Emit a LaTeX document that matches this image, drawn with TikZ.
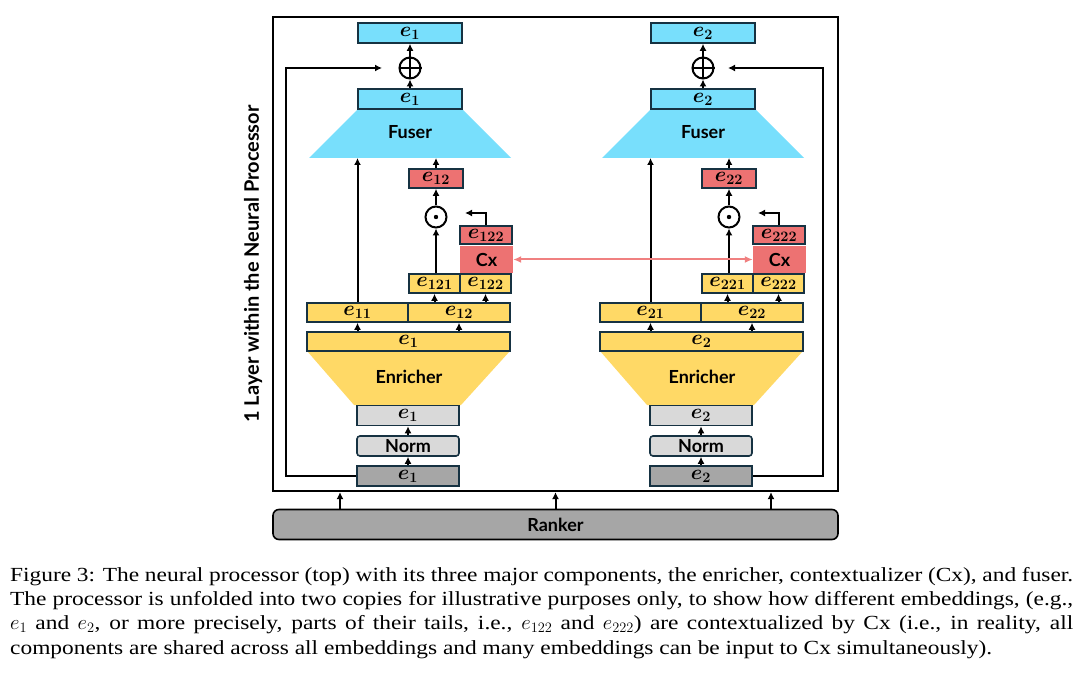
\documentclass[tikz,border=0pt]{standalone}
\usepackage{bm}
\usepackage{fontspec}
\setmainfont{Liberation Serif}
\newfontfamily\lato{Lato}
\newfontfamily\capfont[FakeStretch=1.17]{Liberation Serif}
\usetikzlibrary{arrows.meta}
\definecolor{fuser}{RGB}{120,223,252}
\definecolor{enricher}{RGB}{255,217,102}
\definecolor{contextual}{RGB}{237,114,114}
\definecolor{normgray}{RGB}{217,217,217}
\definecolor{inputgray}{RGB}{166,166,166}
\definecolor{edge}{RGB}{22,50,66}
\definecolor{link}{RGB}{240,128,128}
\newcommand{\emb}[1]{$\bm{e}_{\bm{#1}}$}
\tikzstyle{box}=[draw=edge, line width=1.6pt, inner sep=0pt, minimum height=19pt, font=\fontsize{20}{20}\selectfont]
\tikzstyle{title}=[inner sep=0pt, font=\lato\bfseries\fontsize{18}{18}\selectfont]
\tikzset{fusbox/.style={box, fill=fuser, minimum height=20pt}}
\tikzset{enrbox/.style={box, fill=enricher}}
\tikzset{cxbox/.style={box, fill=contextual}}
\tikzset{normbox/.style={box, fill=normgray, minimum width=102pt, minimum height=20pt}}
\tikzset{inbox/.style={box, fill=inputgray, minimum width=102pt, minimum height=20pt}}
\tikzset{cxnode/.style={title, fill=contextual, minimum width=53pt, minimum height=27pt}}
\tikzset{circ/.style={draw, circle, line width=2pt, minimum size=21pt, inner sep=0pt}}
\tikzset{arr/.style={-{Latex[length=7pt,width=7pt]}, line width=2pt}}

\begin{document}
\begin{tikzpicture}[x=1pt,y=-1pt]
  \useasboundingbox (0,0) rectangle (1090,679);

  %% Frame and ranker
  \draw (555.5,254) node[draw, line width=2.2pt, minimum width=565pt, minimum height=474pt, inner sep=0pt] (Frame) {};
  \draw (555.5,524.5) node[title, draw, fill=inputgray, line width=1.6pt, rounded corners=6pt, minimum width=565pt, minimum height=30pt] (Ranker) {Ranker};
  \draw (253,264) node[title, rotate=90, font=\lato\bfseries\fontsize{20}{20}\selectfont] (Layer) {1 Layer within the Neural Processor};

  %% Left copy
  \fill[fuser] (358,109) -- (462,109) -- (511,158) -- (309,158) -- cycle;
  \fill[enricher] (307,351) -- (510,351) -- (461,405) -- (354,405) -- cycle;
  \draw (410,132) node[title] (Fuser1) {Fuser};
  \draw (409,377) node[title] (Enricher1) {Enricher};
  \coordinate (Fb1) at (410,158);
  \coordinate (Back1) at (465,213);
  \coordinate (Skip1) at (382,68);

  \draw (410,33) node[fusbox, minimum width=104pt] (Eout1) {\emb{1}};
  \draw (410,68) node[circ] (Plus1) {};
  \draw[line width=2pt] (Plus1.north) -- (Plus1.south) (Plus1.west) -- (Plus1.east);
  \draw (410,99) node[fusbox, minimum width=104pt] (Efus1) {\emb{1}};
  \draw (436,178.5) node[cxbox, minimum width=54pt] (Eprod1) {\emb{12}};
  \draw (436,217) node[circ] (Dot1) {};
  \fill (Dot1) circle (2.2pt);
  \draw (486.5,259.5) node[cxnode] (Cx1) {Cx};
  \draw (486,235) node[cxbox, minimum width=52pt, minimum height=18pt] (Ecx1) {\emb{122}};
  \draw (434.5,283.5) node[enrbox, minimum width=51pt] (Ea1) {\emb{121}};
  \draw (485.5,283.5) node[enrbox, minimum width=51pt] (Eb1) {\emb{122}};
  \draw (357.5,312.5) node[enrbox, minimum width=101pt] (Es1) {\emb{11}};
  \draw (459,312.5) node[enrbox, minimum width=102pt] (Et1) {\emb{12}};
  \draw (408.5,341.5) node[enrbox, minimum width=203pt] (Eenr1) {\emb{1}};
  \draw (408,415.5) node[normbox] (Enorm1) {\emb{1}};
  \draw (408,446) node[normbox, rounded corners=3pt, font=\lato\bfseries\fontsize{18}{18}\selectfont] (Norm1) {Norm};
  \draw (408,476) node[inbox] (Ein1) {\emb{1}};

  \draw[arr] (Ein1) -- (Norm1);
  \draw[arr] (Norm1) -- (Enorm1);
  \draw[arr] (Es1.south |- Eenr1.north) -- (Es1.south);
  \draw[arr] (Et1.south |- Eenr1.north) -- (Et1.south);
  \draw[arr] (Ea1.south |- Et1.north) -- (Ea1.south);
  \draw[arr] (Eb1.south |- Et1.north) -- (Eb1.south);
  \draw[arr] (Dot1.south |- Ea1.north) -- (Dot1.south);
  \draw[arr] (Dot1) -- (Eprod1);
  \draw[arr] (Ecx1.north) |- (Back1);
  \draw[arr] (Eprod1.north) -- (Eprod1.north |- Fb1);
  \draw[arr] (Es1.north) -- (Es1.north |- Fb1);
  \draw[arr] (Efus1) -- (Plus1);
  \draw[arr] (Plus1) -- (Eout1);
  \draw[arr] (Ein1.west) -- ++(-70,0) |- (Skip1);

  %% Right copy
  \fill[fuser] (651,109) -- (755,109) -- (804,158) -- (602,158) -- cycle;
  \fill[enricher] (600,351) -- (803,351) -- (754,405) -- (647,405) -- cycle;
  \draw (703,132) node[title] (Fuser2) {Fuser};
  \draw (702,377) node[title] (Enricher2) {Enricher};
  \coordinate (Fb2) at (703,158);
  \coordinate (Back2) at (758,213);
  \coordinate (Skip2) at (728,68);

  \draw (703,33) node[fusbox, minimum width=104pt] (Eout2) {\emb{2}};
  \draw (703,68) node[circ] (Plus2) {};
  \draw[line width=2pt] (Plus2.north) -- (Plus2.south) (Plus2.west) -- (Plus2.east);
  \draw (703,99) node[fusbox, minimum width=104pt] (Efus2) {\emb{2}};
  \draw (729,178.5) node[cxbox, minimum width=54pt] (Eprod2) {\emb{22}};
  \draw (729,217) node[circ] (Dot2) {};
  \fill (Dot2) circle (2.2pt);
  \draw (779.5,259.5) node[cxnode] (Cx2) {Cx};
  \draw (779,235) node[cxbox, minimum width=52pt, minimum height=18pt] (Ecx2) {\emb{222}};
  \draw (727.5,283.5) node[enrbox, minimum width=51pt] (Ea2) {\emb{221}};
  \draw (778.5,283.5) node[enrbox, minimum width=51pt] (Eb2) {\emb{222}};
  \draw (650.5,312.5) node[enrbox, minimum width=101pt] (Es2) {\emb{21}};
  \draw (752,312.5) node[enrbox, minimum width=102pt] (Et2) {\emb{22}};
  \draw (701.5,341.5) node[enrbox, minimum width=203pt] (Eenr2) {\emb{2}};
  \draw (701,415.5) node[normbox] (Enorm2) {\emb{2}};
  \draw (701,446) node[normbox, rounded corners=3pt, font=\lato\bfseries\fontsize{18}{18}\selectfont] (Norm2) {Norm};
  \draw (701,476) node[inbox] (Ein2) {\emb{2}};

  \draw[arr] (Ein2) -- (Norm2);
  \draw[arr] (Norm2) -- (Enorm2);
  \draw[arr] (Es2.south |- Eenr2.north) -- (Es2.south);
  \draw[arr] (Et2.south |- Eenr2.north) -- (Et2.south);
  \draw[arr] (Ea2.south |- Et2.north) -- (Ea2.south);
  \draw[arr] (Eb2.south |- Et2.north) -- (Eb2.south);
  \draw[arr] (Dot2.south |- Ea2.north) -- (Dot2.south);
  \draw[arr] (Dot2) -- (Eprod2);
  \draw[arr] (Ecx2.north) |- (Back2);
  \draw[arr] (Eprod2.north) -- (Eprod2.north |- Fb2);
  \draw[arr] (Es2.north) -- (Es2.north |- Fb2);
  \draw[arr] (Efus2) -- (Plus2);
  \draw[arr] (Plus2) -- (Eout2);
  \draw[arr] (Ein2.east) -- ++(70,0) |- (Skip2);

  %% Contextualizer link and ranker inputs
  \draw[{Latex[length=8pt,width=7pt]}-{Latex[length=8pt,width=7pt]}, line width=2pt, color=link] (Cx1.east) -- (Cx2.west);
  \draw[arr] ([xshift=-215.5pt]Ranker.north) -- ([xshift=-215.5pt]Frame.south);
  \draw[arr] (Ranker.north) -- (Frame.south);
  \draw[arr] ([xshift=215.5pt]Ranker.north) -- ([xshift=215.5pt]Frame.south);

  %% Caption
  \draw (10,567) node[anchor=north west, inner sep=0pt, align=left, font=\capfont\fontsize{20}{24.3}\selectfont] (Caption) {%
    \makebox[1063pt][s]{Figure 3: The neural processor (top) with its three major components, the enricher, contextualizer (Cx), and fuser.}\\
    \makebox[1063pt][s]{The processor is unfolded into two copies for illustrative purposes only, to show how different embeddings, (e.g.,}\\
    \makebox[1063pt][s]{$e_1$ and $e_2$, or more precisely, parts of their tails, i.e., $e_{122}$ and $e_{222}$) are contextualized by Cx (i.e., in reality, all}\\
    components are shared across all embeddings and many embeddings can be input to Cx simultaneously).};
\end{tikzpicture}
\end{document}
